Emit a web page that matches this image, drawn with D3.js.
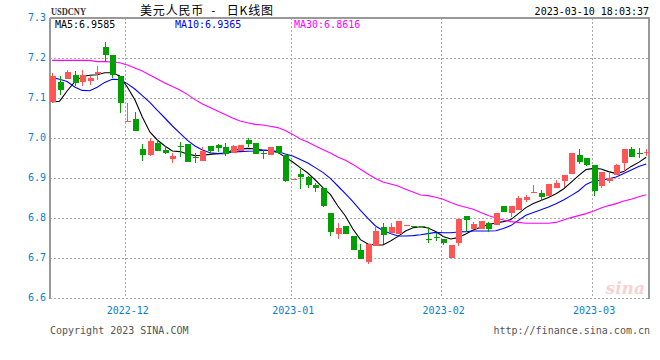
<!DOCTYPE html>
<meta charset="utf-8">
<style>
body { margin: 0; background: #fff; }
text { font-family: "DejaVu Sans Mono", monospace; font-size: 10px; }
.grid { stroke: #aaa; stroke-dasharray: 2,2; shape-rendering: crispEdges; }
.frame { stroke: #999; stroke-width: 1.5; shape-rendering: crispEdges; }
.ma { fill: none; stroke-width: 1.1; }
</style>
<body>
<script src="https://d3js.org/d3.v7.min.js"></script>
<script>

// daily candles, 2022-11-17 .. 2023-03-10
var opens = [7.090,7.140,7.148,7.158,7.139,7.143,7.162,7.2275,7.208,7.154,
  7.041,7.0475,6.9725,6.956,6.9875,6.970,6.948,6.979,6.985,6.952,
  6.943,6.980,6.9825,6.9775,6.964,6.9675,6.996,6.987,6.962,6.958,
  6.980,6.9575,6.897,6.910,6.903,6.8825,6.876,6.8125,6.759,6.779,
  6.756,6.720,6.689,6.730,6.777,6.761,6.761,6.782,6.7812,6.7812,
  6.7475,6.752,6.7475,6.701,6.7367,6.805,6.7717,6.772,6.7867,6.7825,
  6.830,6.8117,6.820,6.846,6.8617,6.863,6.8558,6.8767,6.8933,6.910,
  6.9575,6.9492,6.9325,6.8808,6.8933,6.9075,6.9367,6.9725,6.962,6.9635];

var highs = [7.1625,7.154,7.169,7.168,7.169,7.154,7.179,7.240,7.208,7.154,
  7.0875,7.065,6.985,7.000,6.9975,6.979,6.962,6.989,6.986,6.9625,
  6.977,6.981,6.984,6.987,6.982,6.983,6.999,6.987,6.970,6.978,
  6.981,6.9575,6.897,6.922,6.905,6.888,6.876,6.8125,6.787,6.780,
  6.756,6.734,6.735,6.780,6.788,6.7875,6.7925,6.782,6.7812,6.7812,
  6.777,6.762,6.7475,6.7325,6.7967,6.805,6.791,6.7925,6.789,6.8117,
  6.831,6.830,6.855,6.8567,6.8825,6.870,6.885,6.895,6.9083,6.9617,
  6.9717,6.9492,6.9325,6.9158,6.9117,6.935,6.9725,6.9783,6.974,6.9715];

var lows = [7.090,7.107,7.148,7.129,7.129,7.132,7.146,7.189,7.150,7.0625,
  7.040,7.017,6.942,6.956,6.968,6.960,6.938,6.953,6.941,6.937,
  6.943,6.962,6.964,6.956,6.964,6.9675,6.978,6.959,6.947,6.958,
  6.961,6.889,6.897,6.872,6.874,6.864,6.828,6.756,6.748,6.759,
  6.720,6.697,6.685,6.729,6.735,6.761,6.761,6.782,6.7805,6.7805,
  6.738,6.743,6.733,6.701,6.730,6.766,6.7717,6.772,6.766,6.7825,
  6.8158,6.803,6.820,6.839,6.8617,6.843,6.8558,6.875,6.8783,6.910,
  6.934,6.929,6.8558,6.8758,6.8867,6.9075,6.9183,6.952,6.951,6.955];

var closes = [7.154,7.119,7.165,7.1375,7.157,7.150,7.166,7.207,7.157,7.086,
  7.043,7.017,6.958,6.992,6.968,6.963,6.955,6.976,6.941,6.950,
  6.968,6.9675,6.976,6.959,6.981,6.9825,6.985,6.959,6.960,6.977,
  6.962,6.893,6.897,6.903,6.884,6.876,6.831,6.766,6.774,6.760,
  6.720,6.697,6.735,6.768,6.7575,6.777,6.7925,6.782,6.7805,6.7805,
  6.747,6.750,6.738,6.7325,6.7967,6.795,6.784,6.7925,6.772,6.8117,
  6.8158,6.830,6.849,6.8533,6.8642,6.853,6.885,6.8883,6.9083,6.9617,
  6.9408,6.9308,6.8683,6.9158,6.9008,6.9325,6.9725,6.9533,6.9615,6.964];

// moving averages as drawn
var ma5 = [7.090,7.092,7.1175,7.140,7.154,7.157,7.158,7.163,7.163,7.155,
  7.1275,7.096,7.0525,7.015,6.995,6.980,6.9675,6.966,6.960,6.956,
  6.957,6.959,6.961,6.9625,6.969,6.972,6.974,6.9725,6.970,6.968,
  6.964,6.9525,6.940,6.926,6.9125,6.895,6.876,6.859,6.830,6.805,
  6.7725,6.746,6.735,6.7325,6.7325,6.7425,6.754,6.7675,6.7755,6.778,
  6.775,6.766,6.754,6.7475,6.751,6.760,6.770,6.777,6.784,6.7875,
  6.791,6.796,6.811,6.826,6.836,6.844,6.851,6.8605,6.8725,6.889,
  6.906,6.921,6.924,6.9225,6.916,6.911,6.916,6.929,6.939,6.952];

var ma10 = [7.151,7.147,7.141,7.1275,7.119,7.118,7.127,7.139,7.147,7.146,
  7.136,7.1225,7.106,7.089,7.069,7.050,7.030,7.012,6.994,6.980,
  6.970,6.963,6.961,6.9608,6.965,6.966,6.967,6.9675,6.969,6.969,
  6.966,6.960,6.955,6.946,6.9375,6.926,6.914,6.899,6.880,6.861,
  6.841,6.819,6.799,6.780,6.769,6.761,6.755,6.755,6.756,6.758,
  6.761,6.764,6.763,6.763,6.765,6.766,6.7675,6.7675,6.7675,6.768,
  6.774,6.781,6.794,6.807,6.814,6.8205,6.8275,6.8355,6.845,6.856,
  6.8675,6.884,6.8925,6.894,6.898,6.9025,6.911,6.920,6.9285,6.935];

var ma30 = [7.194,7.194,7.194,7.194,7.194,7.194,7.191,7.191,7.190,7.188,
  7.1825,7.175,7.1675,7.1575,7.1475,7.1375,7.129,7.120,7.109,7.096,
  7.085,7.076,7.0675,7.059,7.050,7.0425,7.038,7.034,7.0325,7.0295,
  7.026,7.019,7.009,6.9975,6.990,6.980,6.971,6.9625,6.9525,6.9445,
  6.934,6.922,6.910,6.899,6.890,6.885,6.880,6.872,6.865,6.8575,
  6.856,6.8517,6.847,6.839,6.832,6.827,6.822,6.814,6.806,6.800,
  6.795,6.791,6.789,6.787,6.787,6.787,6.787,6.789,6.795,6.801,
  6.806,6.811,6.8175,6.825,6.831,6.836,6.8425,6.847,6.853,6.858];

var yTicks = [6.6, 6.7, 6.8, 6.9, 7.0, 7.1, 7.2, 7.3];
var monthLabels = ["2022-12", "2023-01", "2023-02", "2023-03"];
var monthStart = [10, 32, 52, 72];   // index of first candle of each month

var maLegend = ["MA5:6.9585", "MA10:6.9365", "MA30:6.8616"];
var maColors = ["#000000", "#0000ff", "#ff00ff"];

var upColor = "#ff5555", downColor = "#00a000";

// chart area
var margin = {top: 18, right: 10, bottom: 62, left: 50},
    width = 660, height = 360,
    plotBottom = height - margin.bottom,
    plotRight = width - margin.right;

var svg = d3.select("body").append("svg")
    .attr("width", width)
    .attr("height", height);

var x = d3.scalePoint()
    .domain(d3.range(closes.length))
    .range([48.3, plotRight])
    .padding(0.5);

var y = d3.scaleLinear()
    .domain([6.6, 7.3])
    .range([plotBottom, margin.top]);

function px(i) { return Math.round(x(i)); }

// horizontal dotted grid
svg.append("g").selectAll("line")
    .data(yTicks.slice(0, -1))
  .enter().append("line")
    .attr("class", "grid")
    .attr("x1", margin.left).attr("x2", plotRight)
    .attr("y1", function(d) { return Math.round(y(d)) + 0.5; })
    .attr("y2", function(d) { return Math.round(y(d)) + 0.5; });

// vertical dotted grid at month starts
svg.append("g").selectAll("line")
    .data(monthStart)
  .enter().append("line")
    .attr("class", "grid")
    .attr("x1", function(d) { return px(d) - 1.5; })
    .attr("x2", function(d) { return px(d) - 1.5; })
    .attr("y1", margin.top).attr("y2", plotBottom);

// frame
svg.append("line").attr("class", "frame")
    .attr("x1", margin.left).attr("x2", plotRight)
    .attr("y1", margin.top).attr("y2", margin.top);
svg.append("line").attr("class", "frame")
    .attr("x1", margin.left).attr("x2", margin.left)
    .attr("y1", margin.top).attr("y2", plotBottom + 1);
svg.append("line").attr("class", "frame")
    .attr("x1", plotRight - 1).attr("x2", plotRight - 1)
    .attr("y1", margin.top).attr("y2", plotBottom + 1);

// y axis labels
var yAxis = svg.append("g")
    .attr("transform", "translate(" + margin.left + ",0)")
    .call(d3.axisLeft(y).tickValues(yTicks).tickSize(0).tickPadding(4)
        .tickFormat(d3.format(".1f")));
yAxis.select(".domain").remove();
yAxis.selectAll("text")
    .attr("fill", "#0a7fc8")
    .attr("dy", "0.25em")
    .style("font-family", "DejaVu Sans Mono").style("font-size", "10px");

// month labels
var xAxis = svg.append("g")
    .attr("transform", "translate(0," + plotBottom + ")")
    .call(d3.axisBottom(x).tickValues(monthStart).tickSize(0).tickPadding(9)
        .tickFormat(function(d, i) { return monthLabels[i]; }));
xAxis.select(".domain").remove();
xAxis.selectAll("text")
    .attr("fill", "#0a7fc8")
    .style("font-family", "DejaVu Sans Mono").style("font-size", "10px");

// moving average lines
[ma5, ma10, ma30].forEach(function(series, k) {
  svg.append("path")
      .datum(series)
      .attr("class", "ma")
      .attr("stroke", maColors[k])
      .attr("d", d3.line()
          .x(function(d, i) { return x(i); })
          .y(function(d) { return y(d); }));
});

// candles
var candles = svg.append("g").selectAll("g")
    .data(d3.range(closes.length))
  .enter().append("g")
    .attr("fill", function(i) { return closes[i] >= opens[i] ? upColor : downColor; })
    .attr("stroke", function(i) { return closes[i] >= opens[i] ? upColor : downColor; });

candles.append("line")
    .attr("shape-rendering", "crispEdges")
    .attr("x1", function(i) { return px(i) + 0.5; })
    .attr("x2", function(i) { return px(i) + 0.5; })
    .attr("y1", function(i) { return y(highs[i]); })
    .attr("y2", function(i) { return y(lows[i]); });

candles.append("rect")
    .attr("stroke", "none")
    .attr("shape-rendering", "crispEdges")
    .attr("x", function(i) { return px(i) - 2.5; })
    .attr("width", 6)
    .attr("y", function(i) { return Math.round(y(Math.max(opens[i], closes[i]))); })
    .attr("height", function(i) {
      return Math.max(1, Math.round(y(Math.min(opens[i], closes[i])) - y(Math.max(opens[i], closes[i]))));
    });

// header
svg.append("text")
    .attr("x", 51).attr("y", 15)
    .attr("textLength", 35).attr("lengthAdjust", "spacingAndGlyphs")
    .style("font-family", "Liberation Serif").style("font-size", "10px").style("font-weight", "bold")
    .attr("fill", "#333")
    .text("USDCNY");

svg.append("text")
    .attr("x", 140).attr("y", 15)
    .attr("textLength", 133).attr("lengthAdjust", "spacing")
    .style("font-family", "Noto Sans CJK SC").style("font-size", "12px")
    .text("美元人民币\u00a0\u00a0-\u00a0\u00a0\u00a0日K线图");

svg.append("text")
    .attr("x", 649).attr("y", 15)
    .attr("text-anchor", "end")
    .text("2023-03-10 18:03:37");

svg.append("g").selectAll("text")
    .data(maLegend)
  .enter().append("text")
    .attr("x", function(d, i) { return [55, 175, 294][i]; })
    .attr("y", 28)
    .attr("fill", function(d, i) { return maColors[i]; })
    .text(function(d) { return d; });

// footer
svg.append("text")
    .attr("x", 50).attr("y", 334)
    .attr("fill", "#555")
    .text("Copyright 2023 SINA.COM");

svg.append("text")
    .attr("x", 650).attr("y", 334)
    .attr("text-anchor", "end")
    .attr("fill", "#555")
    .text("http://finance.sina.com.cn");

// faint watermark
svg.append("text")
    .attr("x", 645).attr("y", 294)
    .attr("text-anchor", "end")
    .style("font-family", "DejaVu Serif").style("font-size", "17px")
    .style("font-style", "italic").style("font-weight", "bold")
    .attr("fill", "#f6d2d2")
    .text("sina");

</script>
</body>
